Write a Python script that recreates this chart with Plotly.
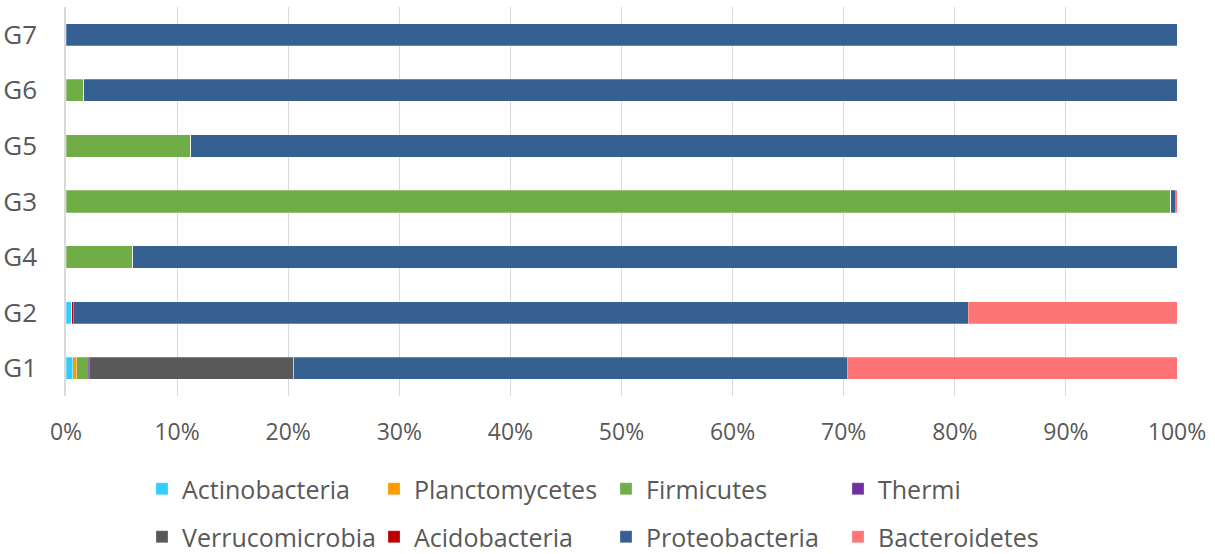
import plotly.graph_objects as go

# Relative abundance (%) of bacterial phyla per group
groups = ["G1", "G2", "G4", "G3", "G5", "G6", "G7"]

actinobacteria = [0.6, 0.5, 0, 0, 0, 0, 0]
planctomycetes = [0.35, 0, 0, 0, 0, 0, 0]
firmicutes = [1.05, 0, 6.0, 99.45, 11.25, 1.6, 0]
thermi = [0.1, 0, 0, 0, 0, 0, 0]
verrucomicrobia = [18.4, 0, 0, 0, 0, 0, 0]
acidobacteria = [0, 0.2, 0, 0, 0, 0, 0]
proteobacteria = [49.8, 80.5, 94.0, 0.45, 88.75, 98.4, 100]
bacteroidetes = [29.7, 18.8, 0, 0.1, 0, 0, 0]

series = [
    ("Actinobacteria", actinobacteria, "#33CCFF", "legend"),
    ("Planctomycetes", planctomycetes, "#FF9900", "legend"),
    ("Firmicutes", firmicutes, "#70AD47", "legend"),
    ("Thermi", thermi, "#7030A0", "legend"),
    ("Verrucomicrobia", verrucomicrobia, "#595959", "legend2"),
    ("Acidobacteria", acidobacteria, "#C00000", "legend2"),
    ("Proteobacteria", proteobacteria, "#366092", "legend2"),
    ("Bacteroidetes", bacteroidetes, "#FF7575", "legend2"),
]

FONT = "Open Sans"
TEXT = "#595959"

fig = go.Figure()
for name, vals, color, leg in series:
    fig.add_trace(go.Bar(
        y=groups,
        x=[v / 100 for v in vals],
        name=name,
        orientation="h",
        marker=dict(color=color, line=dict(color="rgba(255,255,255,0.5)", width=0.5)),
        legend=leg,
    ))

legend_common = dict(
    orientation="h",
    traceorder="normal",
    xref="container",
    yref="container",
    xanchor="left",
    yanchor="middle",
    entrywidth=187,
    entrywidthmode="pixels",
    font=dict(family=FONT, size=25, color=TEXT),
    bgcolor="rgba(0,0,0,0)",
    itemclick=False,
)

fig.update_layout(
    barmode="stack",
    bargap=0.6,
    width=1215,
    height=554,
    margin=dict(l=66, r=38, t=7, b=158, autoexpand=False),
    plot_bgcolor="white",
    paper_bgcolor="white",
    font=dict(family=FONT, size=23, color=TEXT),
    xaxis=dict(
        range=[0, 1],
        dtick=0.1,
        tickformat=".0%",
        showgrid=True,
        gridcolor="#D9D9D9",
        gridwidth=1,
        zeroline=False,
        ticks="",
        ticklabelstandoff=20,
        tickfont=dict(family=FONT, size=23, color=TEXT),
        fixedrange=True,
    ),
    yaxis=dict(
        categoryorder="array",
        categoryarray=groups,
        showgrid=False,
        showline=True,
        linecolor="#D9D9D9",
        linewidth=1.5,
        ticks="",
        ticklabelstandoff=22,
        tickfont=dict(family=FONT, size=26, color=TEXT),
        fixedrange=True,
    ),
    legend=dict(x=142 / 1215, y=1 - 489 / 554, **legend_common),
    legend2=dict(x=142 / 1215, y=1 - 537 / 554, **legend_common),
    showlegend=True,
)

fig.write_html("out.html")
